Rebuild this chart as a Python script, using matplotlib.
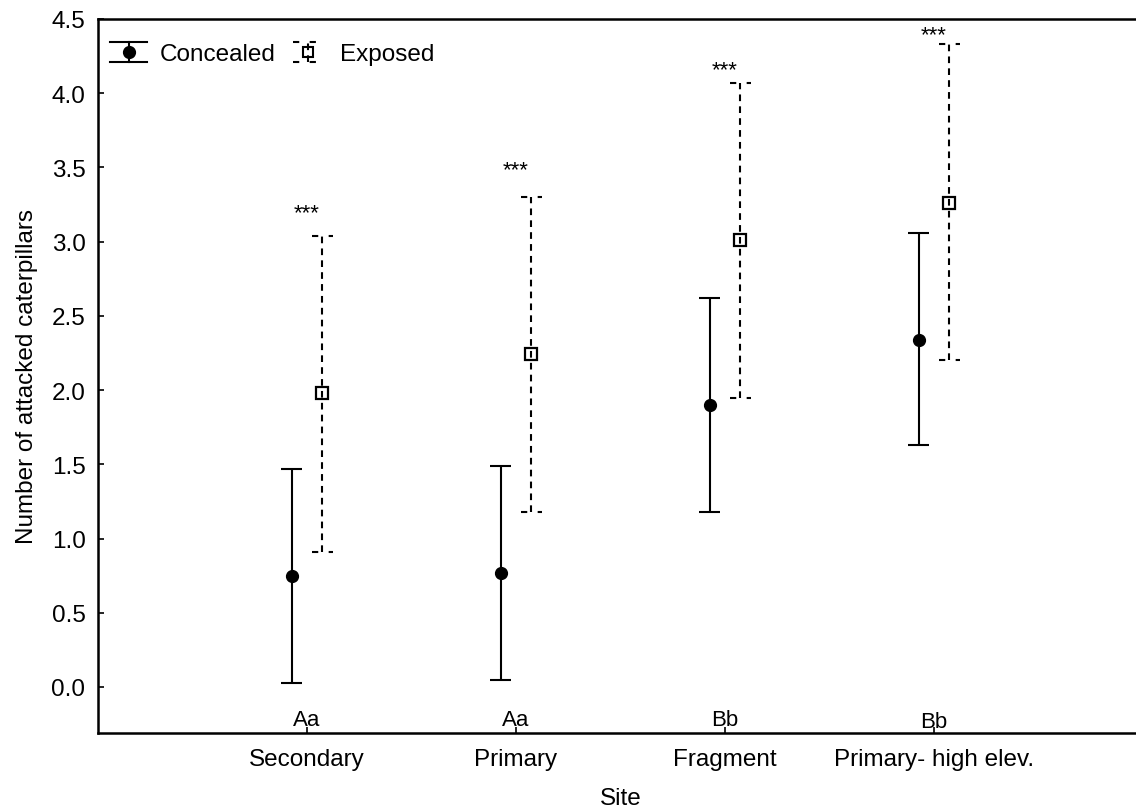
import matplotlib
matplotlib.use("Agg")
import matplotlib.pyplot as plt
from matplotlib.lines import Line2D
from matplotlib.legend_handler import HandlerBase
import numpy as np

plt.rcParams['font.family'] = ['Liberation Sans', 'DejaVu Sans']

sites = ["Secondary", "Primary", "Fragment", "Primary- high elev."]
concealed_mean = [0.75, 0.77, 1.90, 2.34]
concealed_low = [0.03, 0.05, 1.18, 1.63]
concealed_high = [1.47, 1.49, 2.62, 3.06]
exposed_mean = [1.98, 2.24, 3.01, 3.26]
exposed_low = [0.91, 1.18, 1.95, 2.20]
exposed_high = [3.04, 3.30, 4.07, 4.33]
star_text = ["***", "***", "***", "***"]
star_y = [3.155, 3.45, 4.12, 4.36]
group_letters = ["Aa", "Aa", "Bb", "Bb"]
letter_y = [-0.22, -0.22, -0.22, -0.23]

FS = 17.5
FS_L = 16
LW = 1.5
x = np.arange(len(sites))
off = 0.074
capw = 0.052

fig = plt.figure(figsize=(11.36, 8.12), dpi=100)
ax = fig.add_axes([98/1136, 1 - 734/812, (1143 - 98)/1136, (734 - 20)/812])

xc = x - off
xe = x + off

# Concealed: solid bars
ax.vlines(xc, concealed_low, concealed_high, colors='black', lw=LW)
ax.hlines(concealed_low, xc - capw, xc + capw, colors='black', lw=LW)
ax.hlines(concealed_high, xc - capw, xc + capw, colors='black', lw=LW)
ax.plot(xc, concealed_mean, 'o', color='black', ms=8.5, zorder=5)

# Exposed: dashed bars
ax.vlines(xe, exposed_low, exposed_high, colors='black', lw=LW, linestyles=[(0, (3.2, 2.5))])
ax.hlines(exposed_low, xe - capw, xe + capw, colors='black', lw=LW, linestyles=[(0, (3.0, 5.0))])
ax.hlines(exposed_high, xe - capw, xe + capw, colors='black', lw=LW, linestyles=[(0, (3.0, 5.0))])
ax.plot(xe, exposed_mean, 's', mfc='none', mec='black', mew=1.6, ms=8.5, zorder=5)

for xi, s, sy in zip(x, star_text, star_y):
    ax.text(xi, sy, s, ha='center', va='baseline', fontsize=FS_L)
for xi, s, ly in zip(x, group_letters, letter_y):
    ax.text(xi, ly, s, ha='center', va='center', fontsize=FS_L)

ax.set_xlim(-1, 4)
ax.set_ylim(-0.31, 4.5)
ax.set_xticks(x)
ax.set_xticklabels(sites, fontsize=FS)
ax.set_yticks(np.arange(0, 4.51, 0.5))
ax.set_yticklabels([f"{v:.1f}" for v in np.arange(0, 4.51, 0.5)], fontsize=FS)
ax.tick_params(direction='in', length=4, width=1.2)
ax.tick_params(axis='x', pad=11)
ax.tick_params(axis='y', pad=9)
for sp in ax.spines.values():
    sp.set_linewidth(1.8)

ax.set_xlabel("Site", fontsize=FS, labelpad=12)
ax.set_ylabel("Number of attacked caterpillars", fontsize=FS, labelpad=10)


class ErrHandler(HandlerBase):
    def __init__(self, dashed, marker, filled):
        super().__init__()
        self.dashed = dashed
        self.marker = marker
        self.filled = filled

    def create_artists(self, legend, orig_handle, xdescent, ydescent, width, height, fontsize, trans):
        cx = width / 2 - xdescent
        mid = height / 2 - ydescent
        half = 10 * 72 / 100
        top = mid + half
        bot = mid - half
        vls = (0, (3.2, 2.5)) if self.dashed else '-'
        cls = (0, (3.0, 5.0)) if self.dashed else '-'
        hw = width * 0.5 if not self.dashed else width * 0.42
        arts = [
            Line2D([cx, cx], [bot, top], color='black', lw=LW, linestyle=vls, transform=trans),
            Line2D([cx - hw, cx + hw], [top, top], color='black', lw=LW, linestyle=cls, transform=trans),
            Line2D([cx - hw, cx + hw], [bot, bot], color='black', lw=LW, linestyle=cls, transform=trans),
            Line2D([cx], [mid], marker=self.marker, color='black',
                   mfc='black' if self.filled else 'none', mec='black', mew=1.5,
                   ms=8 if self.filled else 7.5, linestyle='none', transform=trans),
        ]
        return arts


h1 = Line2D([], [])
h2 = Line2D([], [])
leg = ax.legend([h1, h2], ["Concealed", "Exposed"], ncol=2, loc='upper left',
                bbox_to_anchor=(0.0, 0.983), frameon=False, fontsize=FS,
                handlelength=1.52, handletextpad=0.53, columnspacing=0.58,
                borderaxespad=0.0, borderpad=0.5,
                handler_map={h1: ErrHandler(False, 'o', True), h2: ErrHandler(True, 's', False)})

fig.savefig("out.png", dpi=100)
